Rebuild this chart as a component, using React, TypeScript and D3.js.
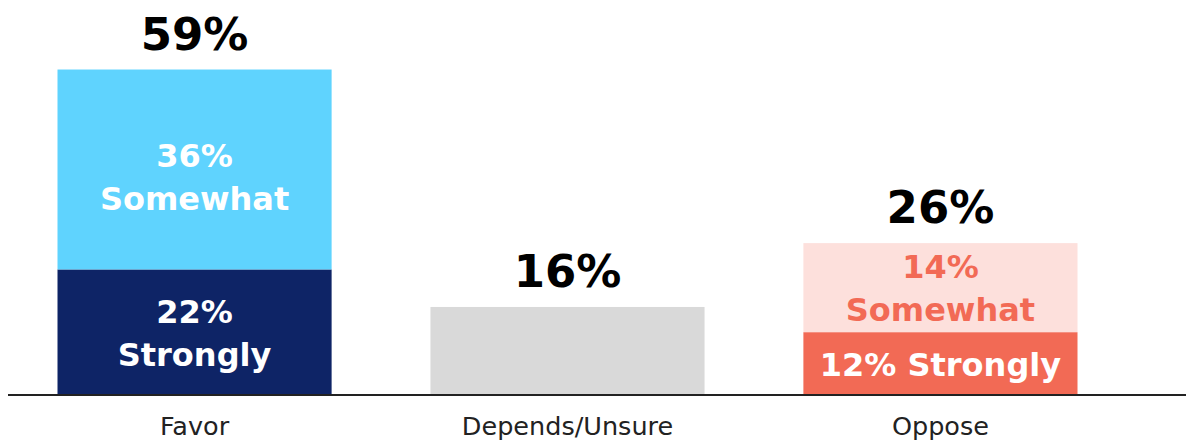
import React from "react";
import * as d3 from "d3";

const categories = ["Favor", "Depends/Unsure", "Oppose"];
// segment values as drawn (bottom segment first)
const strongly = [22.6, 15.9, 11.4];
const somewhat = [35.7, 0, 15.9];
const totalLabels = ["59%", "16%", "26%"];
const stronglyLabels = [["22%", "Strongly"], [], ["12% Strongly"]];
const somewhatLabels = [["36%", "Somewhat"], [], ["14%", "Somewhat"]];

const W = 1186;
const H = 440;
const FONT = "'DejaVu Sans', sans-serif";

const bottomColors = ["#0E2466", "#D9D9D9", "#F26A55"];
const topColors = ["#5FD3FE", "#D9D9D9", "#FDE0DC"];
const bottomText = ["#FFFFFF", "#FFFFFF", "#FFFFFF"];
const topText = ["#FFFFFF", "#FFFFFF", "#F26A55"];

export default function App() {
  const x = d3.scaleBand<string>().domain(categories).range([57.5, 1077.5]).paddingInner(0.265).paddingOuter(0);
  const y = d3.scaleLinear().domain([0, 60]).range([396, 60]);
  const bw = x.bandwidth();
  const lineGap = 43;

  const block = (lines: string[], cy: number, cx: number, color: string, key: string) => {
    const n = lines.length;
    const capH = 23;
    const first = cy - ((n - 1) * lineGap) / 2 + capH / 2;
    return lines.map((t, i) => (
      <text key={key + i} x={cx} y={first + i * lineGap} textAnchor="middle" fill={color}
        fontFamily={FONT} fontWeight="bold" fontSize={32}>{t}</text>
    ));
  };

  return (
    <div style={{ position: "absolute", left: 0, top: 0 }}>
      <svg width={W} height={H} style={{ display: "block", background: "#fff" }}>
        {categories.map((c, i) => {
          const x0 = x(c)!;
          const cx = x0 + bw / 2;
          const s = strongly[i];
          const m = somewhat[i];
          const ySplit = y(s);
          const yTop = y(s + m);
          return (
            <g key={c}>
              <rect x={x0} y={ySplit} width={bw} height={y(0) - ySplit} fill={bottomColors[i]} />
              {m > 0 && <rect x={x0} y={yTop} width={bw} height={ySplit - yTop} fill={topColors[i]} />}
              {block(stronglyLabels[i], (y(0) + ySplit) / 2, cx, bottomText[i], "s" + i)}
              {block(somewhatLabels[i], (ySplit + yTop) / 2 + (i === 0 ? 8 : 0), cx, topText[i], "m" + i)}
              <text x={cx} y={yTop - 20} textAnchor="middle" fill="#000" fontFamily={FONT}
                fontWeight="bold" fontSize={45}>{totalLabels[i]}</text>
              <text x={cx} y={435} textAnchor="middle" fill="#222" fontFamily={FONT}
                fontSize={25.5}>{c}</text>
            </g>
          );
        })}
        <line x1={8} x2={W} y1={395} y2={395} stroke="#222" strokeWidth={2} />
      </svg>
    </div>
  );
}
